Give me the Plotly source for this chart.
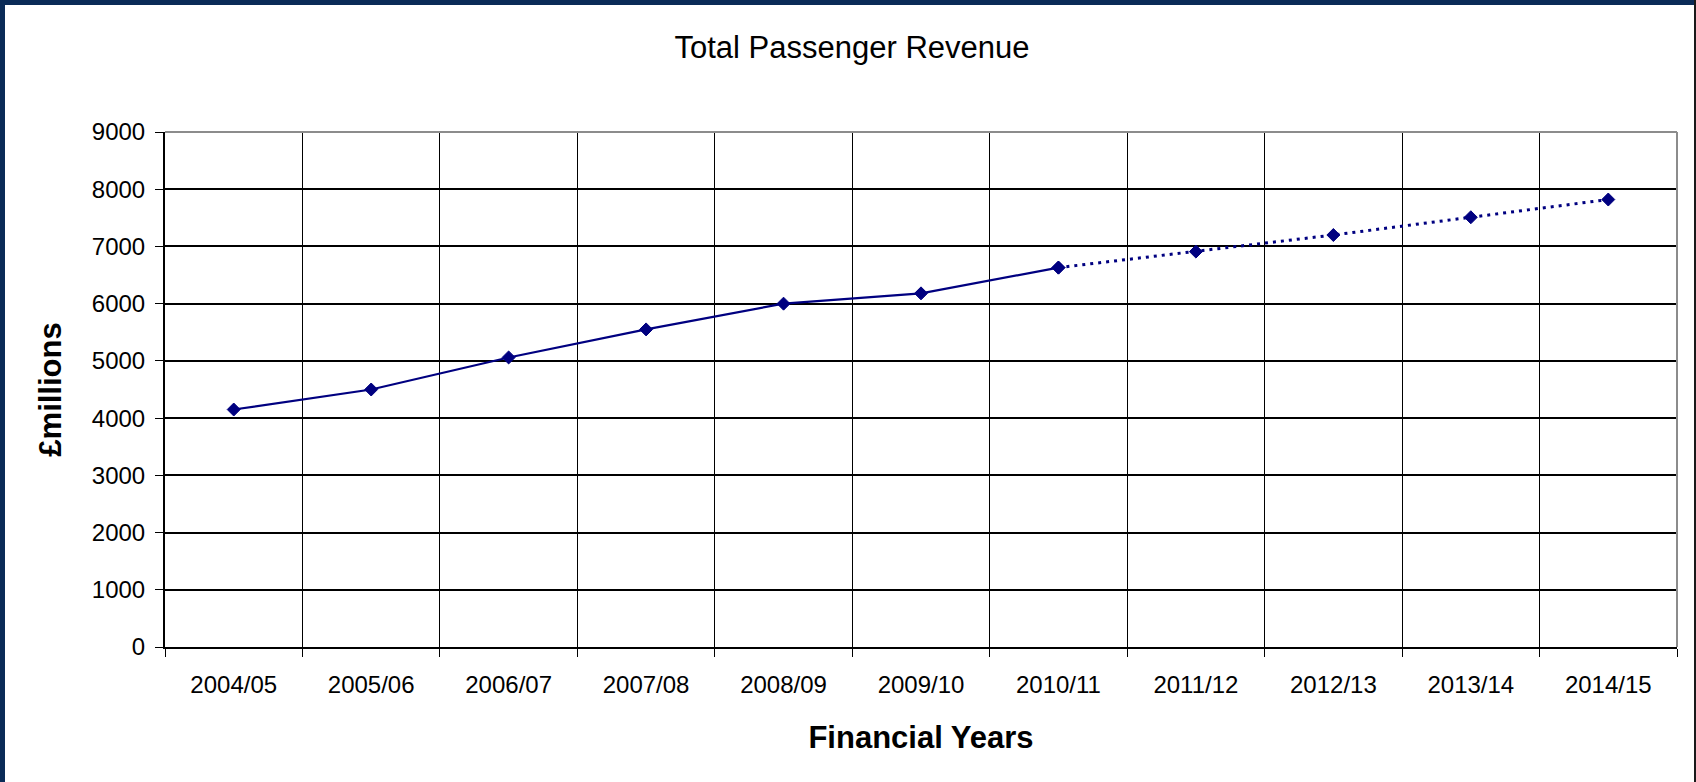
import plotly.graph_objects as go

# Financial years and total passenger revenue (£ millions)
years = ["2004/05", "2005/06", "2006/07", "2007/08", "2008/09", "2009/10",
         "2010/11", "2011/12", "2012/13", "2013/14", "2014/15"]
revenue = [4150, 4500, 5060, 5550, 6000, 6180, 6630, 6910, 7200, 7510, 7820]
n_actual = 7  # outturn up to 2010/11, projections afterwards

y_ticks = [0, 1000, 2000, 3000, 4000, 5000, 6000, 7000, 8000, 9000]

NAVY = "#000080"
FRAME = "#0a2b57"
FONT = "Liberation Sans, Arial, sans-serif"

W, H = 1696, 782
ML, MR, MT, MB = 165, 19, 132, 135

marker_style = dict(symbol="diamond", size=10, color=NAVY,
                    line=dict(color=NAVY, width=1))

fig = go.Figure()

# actual figures: solid line
fig.add_trace(go.Scatter(
    x=years[:n_actual], y=revenue[:n_actual],
    mode="lines+markers",
    line=dict(color=NAVY, width=2.2),
    marker=marker_style,
    showlegend=False, cliponaxis=False,
))
# projected figures: dotted line continuing from the last actual year
fig.add_trace(go.Scatter(
    x=years[n_actual - 1:], y=revenue[n_actual - 1:],
    mode="lines+markers",
    line=dict(color=NAVY, width=3, dash="3px,5px"),
    marker=marker_style,
    showlegend=False, cliponaxis=False,
))

pw = W - ML - MR
ph = H - MT - MB

def px_x(p):
    return (p - ML) / pw

def px_y(p):
    return (H - MB - p) / ph

shapes = [
    # grey frame on the top and right of the plotting area
    dict(type="line", xref="paper", yref="paper", x0=0, x1=1, y0=1, y1=1,
         line=dict(color="#8c8c8c", width=2), layer="above"),
    dict(type="line", xref="paper", yref="paper", x0=1, x1=1, y0=0, y1=1,
         line=dict(color="#8c8c8c", width=2), layer="above"),
    # dark page frame: top and left bands, thin line on the right
    dict(type="rect", xref="paper", yref="paper",
         x0=px_x(0), x1=px_x(W), y0=px_y(5), y1=px_y(0),
         fillcolor=FRAME, line=dict(width=0), layer="above"),
    dict(type="rect", xref="paper", yref="paper",
         x0=px_x(0), x1=px_x(5), y0=px_y(H), y1=px_y(0),
         fillcolor=FRAME, line=dict(width=0), layer="above"),
    dict(type="rect", xref="paper", yref="paper",
         x0=px_x(W - 2), x1=px_x(W), y0=px_y(H), y1=px_y(0),
         fillcolor="#1a1a1a", line=dict(width=0), layer="above"),
]

fig.update_layout(
    width=W, height=H,
    margin=dict(l=ML, r=MR, t=MT, b=MB),
    paper_bgcolor="white", plot_bgcolor="white",
    font=dict(family=FONT, color="black"),
    title=dict(text="Total Passenger Revenue", x=852 / W, xref="container",
               xanchor="center", y=1 - 47 / H, yref="container", yanchor="middle",
               font=dict(size=31, family=FONT, color="black")),
    shapes=shapes,
    xaxis=dict(
        type="category", range=[-0.5, len(years) - 0.5],
        tickson="boundaries", ticks="outside", ticklen=8, tickcolor="black",
        showgrid=True, gridcolor="black", gridwidth=1,
        showline=True, linecolor="black", linewidth=2,
        tickfont=dict(size=24, family=FONT), zeroline=False,
        ticklabelstandoff=15,
        title=dict(text="<b>Financial Years</b>", standoff=30,
                   font=dict(size=31, family=FONT)),
    ),
    yaxis=dict(
        range=[0, 9000], tickvals=y_ticks, ticks="outside", ticklen=8,
        tickcolor="black", showgrid=True, gridcolor="black", gridwidth=1.5,
        showline=True, linecolor="black", linewidth=2, zeroline=False,
        tickfont=dict(size=24, family=FONT),
        ticklabelstandoff=5,
        title=dict(text="<b>£millions</b>", standoff=21,
                   font=dict(size=31, family=FONT)),
    ),
)

fig.write_html("out.html")
